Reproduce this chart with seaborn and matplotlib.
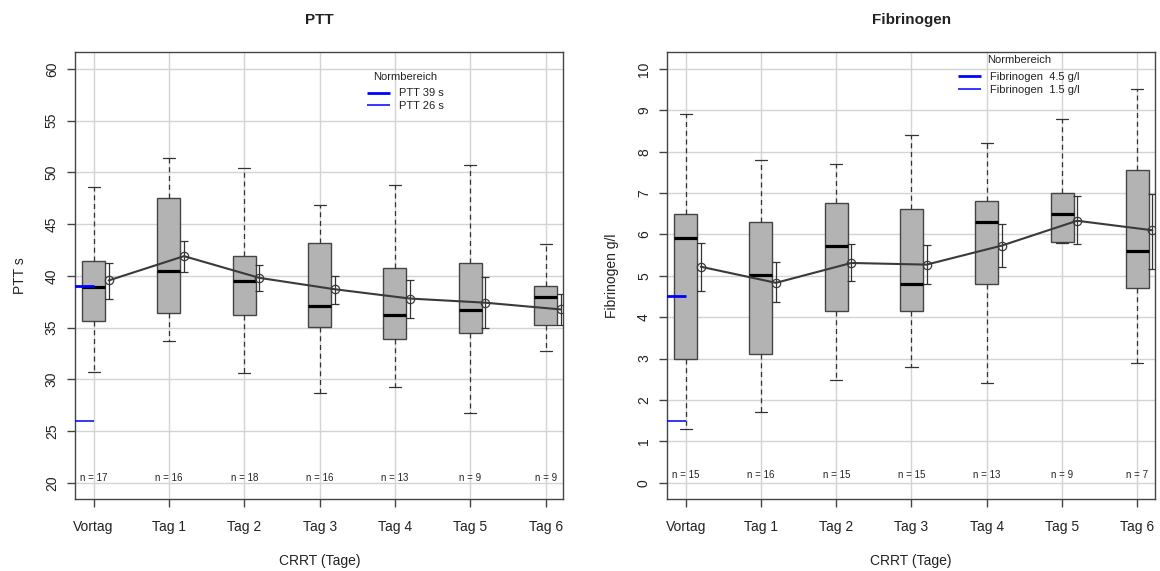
import numpy as np
import pandas as pd
import matplotlib
matplotlib.use("Agg")
import matplotlib.pyplot as plt
import seaborn as sns

# ---------------- data ----------------
days = ["Vortag", "Tag 1", "Tag 2", "Tag 3", "Tag 4", "Tag 5", "Tag 6"]

ptt_whislo = [30.7, 33.7, 30.6, 28.7, 29.3, 26.7, 32.7]
ptt_q1 = [35.6, 36.45, 36.25, 35.05, 33.85, 34.5, 35.25]
ptt_med = [38.9, 40.5, 39.45, 37.05, 36.2, 36.65, 37.95]
ptt_q3 = [41.45, 47.55, 41.95, 43.2, 40.8, 41.25, 39.05]
ptt_whishi = [48.6, 51.4, 50.45, 46.8, 48.8, 50.7, 43.05]
ptt_mean = [39.55, 41.9, 39.8, 38.7, 37.8, 37.4, 36.75]
ptt_ci_lo = [37.8, 40.4, 38.5, 37.3, 35.95, 35.0, 35.25]
ptt_ci_hi = [41.25, 43.4, 41.05, 39.95, 39.55, 39.85, 38.2]
ptt_n = [17, 16, 18, 16, 13, 9, 9]
ptt_ref = [39, 26]
ptt_ref_labels = ["PTT 39 s", "PTT 26 s"]
ptt_yticks = [20, 25, 30, 35, 40, 45, 50, 55, 60]

fib_whislo = [1.3, 1.71, 2.49, 2.8, 2.41, 5.8, 2.89]
fib_q1 = [3.0, 3.11, 4.16, 4.16, 4.79, 5.81, 4.71]
fib_med = [5.91, 5.01, 5.71, 4.79, 6.31, 6.5, 5.61]
fib_q3 = [6.5, 6.3, 6.76, 6.61, 6.8, 7.0, 7.55]
fib_whishi = [8.9, 7.8, 7.7, 8.4, 8.2, 8.8, 9.52]
fib_mean = [5.22, 4.83, 5.31, 5.27, 5.73, 6.33, 6.1]
fib_ci_lo = [4.64, 4.37, 4.87, 4.79, 5.21, 5.77, 5.17]
fib_ci_hi = [5.8, 5.33, 5.76, 5.74, 6.26, 6.92, 6.98]
fib_n = [15, 16, 15, 15, 13, 9, 7]
fib_ref = [4.5, 1.5]
fib_ref_labels = ["Fibrinogen  4.5 g/l", "Fibrinogen  1.5 g/l"]
fib_yticks = [0, 1, 2, 3, 4, 5, 6, 7, 8, 9, 10]

# ---------------- style ----------------
sns.set_style("ticks")
plt.rcParams["font.family"] = ["Liberation Sans", "DejaVu Sans"]
plt.rcParams["text.color"] = "#222222"
plt.rcParams["axes.labelcolor"] = "#222222"
plt.rcParams["xtick.color"] = "#444444"
plt.rcParams["ytick.color"] = "#444444"

FRAME = "#454545"
BOXFILL = "#b3b3b3"
DARK = "#333333"
GRID = "#d4d4d4"

fig = plt.figure(figsize=(11.6, 5.71), dpi=100)
ax1 = fig.add_axes([0.0649, 0.1256, 0.4207, 0.7828])
ax2 = fig.add_axes([0.5753, 0.1256, 0.4204, 0.7828])


def panel(ax, title, ylabel, whislo, q1, med, q3, whishi, mean, cilo, cihi,
          ns, refs, ref_labels, yticks, legend_anchor, n_yfrac):
    pos = np.arange(len(days))
    stats = [dict(whislo=a, q1=b, med=c, q3=d, whishi=e, fliers=[])
             for a, b, c, d, e in zip(whislo, q1, med, q3, whishi)]
    ax.bxp(stats, positions=pos, widths=0.305, capwidths=0.16,
           patch_artist=True, showfliers=False,
           boxprops=dict(facecolor=BOXFILL, edgecolor=FRAME, linewidth=1.0),
           whiskerprops=dict(color=DARK, linewidth=0.9, linestyle=(0, (4, 3))),
           capprops=dict(color=DARK, linewidth=0.9),
           medianprops=dict(color="black", linewidth=2.3, solid_capstyle="butt"),
           zorder=2)

    df = pd.DataFrame({"x": pos + 0.2, "mean": mean, "lo": cilo, "hi": cihi})
    ax.errorbar(df["x"], df["mean"],
                yerr=[df["mean"] - df["lo"], df["hi"] - df["mean"]],
                fmt="none", ecolor=DARK, elinewidth=0.9, capsize=2.6,
                capthick=0.9, zorder=3)
    sns.lineplot(data=df, x="x", y="mean", ax=ax, color="#3a3a3a",
                 linewidth=1.5, marker="o", markersize=6,
                 markerfacecolor="none", markeredgecolor="#3a3a3a",
                 markeredgewidth=0.9, zorder=4)

    lws = [2.0, 1.1]
    handles = []
    for val, lab, lw in zip(refs, ref_labels, lws):
        h = ax.hlines(val, -1, 0, colors="#0000ff", linewidth=lw, label=lab,
                      zorder=5)
        handles.append(h)

    ylo, yhi = yticks[0], yticks[-1]
    pad = (yhi - ylo) * 0.04
    ax.set_ylim(ylo - pad, yhi + pad)
    ax.set_xlim(-0.243, len(days) - 1 + 0.235)
    ax.set_yticks(yticks)
    ax.set_yticklabels([str(t) for t in yticks], rotation=90, va="center")
    ax.set_xticks(pos)
    ax.set_xticklabels(days)
    ax.tick_params(axis="both", direction="out", length=5.8, width=1.0,
                   labelsize=10, colors="#444444", labelcolor="#222222")
    ax.tick_params(axis="x", pad=9)
    ax.tick_params(axis="y", pad=6)

    ax.grid(True, color=GRID, linewidth=1.0)
    ax.set_axisbelow(True)
    for s in ax.spines.values():
        s.set_visible(True)
        s.set_color(FRAME)
        s.set_linewidth(1.0)

    ax.set_xlabel("CRRT (Tage)", fontsize=10)
    ax.xaxis.set_label_coords(0.5, -0.138)
    ax.xaxis.label.set_va("center")
    ax.set_ylabel(ylabel, fontsize=10)
    ax.yaxis.set_label_coords(-0.113, 0.5)
    ax.yaxis.label.set_va("center")
    ax.set_title(title, fontsize=11, fontweight="bold", y=1.072, va="center",
                 pad=0)

    for p, n in zip(pos, ns):
        ax.text(p, n_yfrac, f"n = {n}", fontsize=7, ha="center", va="center",
                transform=ax.get_xaxis_transform(), color="#222222")

    leg = ax.legend(handles=handles, labels=ref_labels, title="Normbereich",
                    loc="upper left", bbox_to_anchor=legend_anchor,
                    frameon=False, fontsize=8, title_fontsize=8,
                    handlelength=2.1, handletextpad=0.8, labelspacing=0.25,
                    borderpad=0, borderaxespad=0)
    leg._legend_box.sep = 5.0


panel(ax1, "PTT", "PTT s", ptt_whislo, ptt_q1, ptt_med, ptt_q3, ptt_whishi,
      ptt_mean, ptt_ci_lo, ptt_ci_hi, ptt_n, ptt_ref, ptt_ref_labels,
      ptt_yticks, (0.597, 0.957), 0.047)
panel(ax2, "Fibrinogen", "Fibrinogen g/l", fib_whislo, fib_q1, fib_med,
      fib_q3, fib_whishi, fib_mean, fib_ci_lo, fib_ci_hi, fib_n, fib_ref,
      fib_ref_labels, fib_yticks, (0.596, 0.994), 0.054)

fig.savefig("out.png", dpi=100)
